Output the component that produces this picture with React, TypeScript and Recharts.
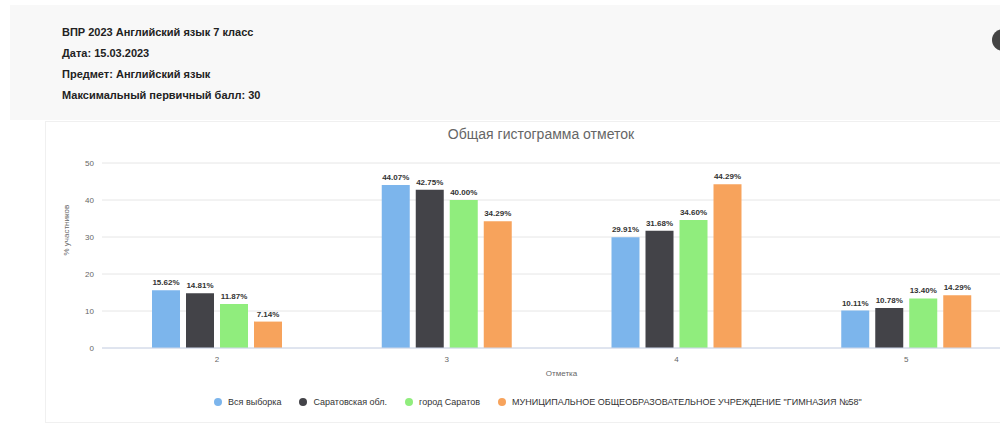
import { Bar, BarChart, CartesianGrid, LabelList, XAxis, YAxis } from "recharts";

const marks = ["2", "3", "4", "5"];
const allSample = [15.62, 44.07, 29.91, 10.11];
const saratovRegion = [14.81, 42.75, 31.68, 10.78];
const saratovCity = [11.87, 40.0, 34.6, 13.4];
const gymnasium = [7.14, 34.29, 44.29, 14.29];
const yTicks = [0, 10, 20, 30, 40, 50];

const series = [
  { key: "all", name: "Вся выборка", color: "#7cb5ec", values: allSample },
  { key: "region", name: "Саратовская обл.", color: "#434348", values: saratovRegion },
  { key: "city", name: "город Саратов", color: "#90ed7d", values: saratovCity },
  {
    key: "school",
    name: "МУНИЦИПАЛЬНОЕ ОБЩЕОБРАЗОВАТЕЛЬНОЕ УЧРЕЖДЕНИЕ \"ГИМНАЗИЯ №58\"",
    color: "#f7a35c",
    values: gymnasium,
  },
];

const headerLines = [
  "ВПР 2023 Английский язык 7 класс",
  "Дата: 15.03.2023",
  "Предмет: Английский язык",
  "Максимальный первичный балл: 30",
];

const data = marks.map((m, i) => {
  const row: Record<string, string | number> = { mark: m };
  series.forEach((s) => (row[s.key] = s.values[i]));
  return row;
});

const font = "'Liberation Sans', Arial, sans-serif";

export default function App() {
  return (
    <div
      style={{
        position: "fixed",
        left: 0,
        top: 0,
        width: 1000,
        height: 428,
        overflow: "hidden",
        background: "#fff",
        fontFamily: font,
      }}
    >
      <div style={{ position: "absolute", left: 10, top: 5, width: 1000, height: 115, background: "#f8f8f8" }} />
      <div style={{ position: "absolute", left: 62, top: 22 }}>
        {headerLines.map((l) => (
          <div key={l} style={{ fontSize: 11, fontWeight: 700, color: "#222", height: 21, lineHeight: "21px" }}>
            {l}
          </div>
        ))}
      </div>
      <div
        style={{
          position: "absolute",
          left: 992,
          top: 29,
          width: 22,
          height: 22,
          borderRadius: 11,
          background: "#444",
        }}
      />
      <div
        style={{
          position: "absolute",
          left: 45,
          top: 121,
          width: 1000,
          height: 300,
          background: "#fff",
          border: "1px solid #f0f0f0",
        }}
      >
        <div
          style={{
            position: "absolute",
            left: 0,
            width: 990,
            top: 4,
            textAlign: "center",
            fontSize: 14,
            color: "#666",
          }}
        >
          Общая гистограмма отметок
        </div>
        <BarChart
          width={985}
          height={268}
          data={data}
          margin={{ top: 41, right: 10, bottom: 0, left: 0 }}
          barGap={6}
          barSize={28}
        >
          <CartesianGrid vertical={false} stroke="#e6e6e6" />
          <XAxis
            dataKey="mark"
            tick={{ fontSize: 8, fill: "#666" }}
            tickLine={false}
            axisLine={{ stroke: "#ccd6eb" }}
            height={42}
            label={{ value: "Отметка", position: "insideBottom", offset: 14, fontSize: 8, fill: "#666" }}
          />
          <YAxis
            domain={[0, 50]}
            ticks={yTicks}
            width={56}
            tick={{ fontSize: 8, fill: "#666" }}
            tickLine={false}
            axisLine={false}
            label={{ value: "% участников", angle: -90, position: "insideLeft", offset: 20, fontSize: 8, fill: "#666" }}
          />
          {series.map((s) => (
            <Bar key={s.key} dataKey={s.key} name={s.name} fill={s.color} isAnimationActive={false}>
              <LabelList
                dataKey={s.key}
                position="top"
                offset={5}
                formatter={(v: number) => `${v.toFixed(2)}%`}
                style={{ fontSize: 8, fontWeight: 700, fill: "#333" }}
              />
            </Bar>
          ))}
        </BarChart>
        <div
          style={{
            position: "absolute",
            left: 168,
            top: 275,
            display: "flex",
            alignItems: "center",
            fontSize: 9,
            color: "#333",
            whiteSpace: "nowrap",
          }}
        >
          {series.map((s) => (
            <div key={s.key} style={{ display: "flex", alignItems: "center", marginRight: 18 }}>
              <span
                style={{
                  display: "inline-block",
                  width: 8,
                  height: 8,
                  borderRadius: 4,
                  background: s.color,
                  marginRight: 6,
                }}
              />
              {s.name}
            </div>
          ))}
        </div>
      </div>
    </div>
  );
}
